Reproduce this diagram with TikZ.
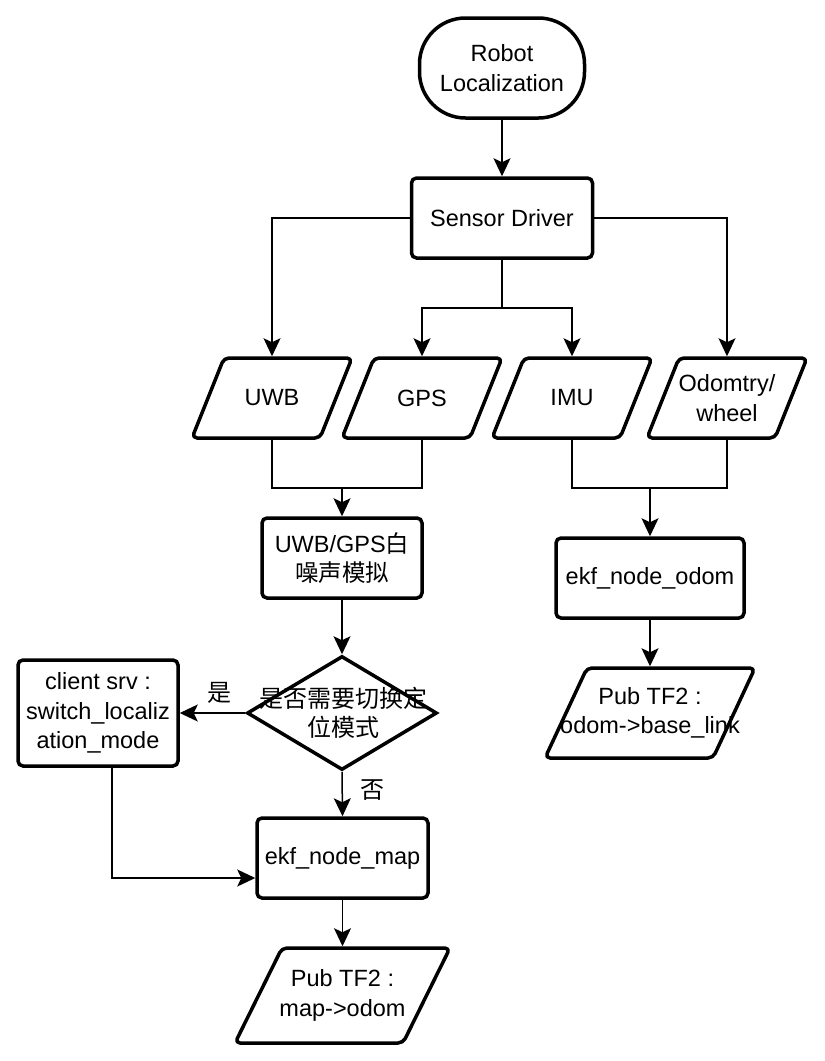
\documentclass[tikz,border=0pt]{standalone}
\usepackage{fontspec}
\setmainfont{Liberation Sans}
\newfontfamily\cjk{Noto Sans CJK SC}
\usetikzlibrary{arrows.meta,shapes.geometric}
\newcommand\paraoutline[4]{% node, half width, half height, slant offset
  \draw[line width=3.5pt, rounded corners=5pt, line join=round]
    ([shift={(-#2,#3)}]#1.center) -- ([shift={(#2-#4,#3)}]#1.center) --
    ([shift={(#2,-#3)}]#1.center) -- ([shift={(-#2+#4,-#3)}]#1.center) -- cycle;}
\begin{document}
\begin{tikzpicture}[x=1pt,y=-1pt,
  every node/.style={font=\fontsize{23.5}{29.5}\selectfont, align=center, inner sep=0pt},
  box/.style={draw, line width=3.5pt, rectangle, rounded corners=5pt},
  para/.style={rectangle, outer sep=1.75pt},
  conn/.style={line width=1.5pt},
  arr/.style={line width=1.5pt, -{Stealth[length=18pt,width=17pt,inset=4pt]}},
  lbl/.style={font=\cjk\fontsize{24}{29}\selectfont}
]
\useasboundingbox (0,0) rectangle (825,1061);
\fill[white] (0,0) rectangle (825,1061);

\node[box, rounded corners=46pt, minimum width=165pt, minimum height=100pt] (robot) at (502,68) {Robot\\Localization};
\node[box, minimum width=181pt, minimum height=80pt] (sensor) at (502,218) {Sensor Driver};

\node[para, minimum width=160pt, minimum height=80pt] (uwb) at (272,398) {UWB};
\node[para, minimum width=160pt, minimum height=80pt] (gps) at (422,398) {GPS};
\node[para, minimum width=160pt, minimum height=80pt] (imu) at (572,398) {IMU};
\node[para, minimum width=160pt, minimum height=80pt] (odo) at (727,398) {Odomtry/\\wheel};
\paraoutline{uwb}{80}{40}{32}
\paraoutline{gps}{80}{40}{32}
\paraoutline{imu}{80}{40}{32}
\paraoutline{odo}{80}{40}{32}

\node[box, minimum width=160pt, minimum height=80pt] (noise) at (342,558) {UWB/GPS{\cjk 白}\\{\cjk 噪声模拟}};
\node[box, minimum width=188pt, minimum height=80pt] (ekfodom) at (650,578) {ekf\_node\_odom};
\node[para, minimum width=210pt, minimum height=90pt] (pubodom) at (650,713) {Pub TF2 :\\odom->base\_link};
\paraoutline{pubodom}{105}{45}{42}

\node[draw, line width=3.5pt, diamond, minimum width=190pt, minimum height=114pt] (dia) at (342,713) {};
\node[lbl] (diatext) at (343,713) {是否需要切换定\\位模式};

\node[box, minimum width=160pt, minimum height=106pt] (client) at (98,713) {client srv :\\switch\_localiz\\ation\_mode};
\node[box, minimum width=171pt, minimum height=80pt] (ekfmap) at (342.5,858) {ekf\_node\_map};
\node[para, minimum width=215pt, minimum height=95pt] (pubmap) at (342.5,995.5) {Pub TF2 :\\map->odom};
\paraoutline{pubmap}{107.5}{47.5}{47}

\coordinate (s1) at (502,308);
\coordinate (j1) at (342,488);
\coordinate (j2) at (650,488);
\coordinate (c1) at (112,766);

\draw[arr] (robot.south) -- (sensor.north);
\draw[arr] (sensor.west) -| (uwb.north);
\draw[arr] (sensor.east) -| (odo.north);
\draw[conn] (sensor.south) -- (s1);
\draw[arr] (s1) -| (gps.north);
\draw[arr] (s1) -| (imu.north);

\draw[conn] (uwb.south) |- (j1) -| (gps.south);
\draw[arr] (j1) -- (noise.north);
\draw[conn] (imu.south) |- (j2) -| (odo.south);
\draw[arr] (j2) -- (ekfodom.north);
\draw[arr] (ekfodom.south) -- (pubodom.north);

\draw[arr] (noise.south) -- (dia.north);
\draw[arr] (dia.west) -- (client.east);
\node[lbl] (yes) at (219,693) {是};
\draw[arr] (dia.south) -- (ekfmap.north);
\node[lbl] (no) at (372,790) {否};
\draw[arr] (c1) |- ([yshift=-20pt]ekfmap.west);
\draw[arr] (ekfmap.south) -- (pubmap.north);
\end{tikzpicture}
\end{document}
